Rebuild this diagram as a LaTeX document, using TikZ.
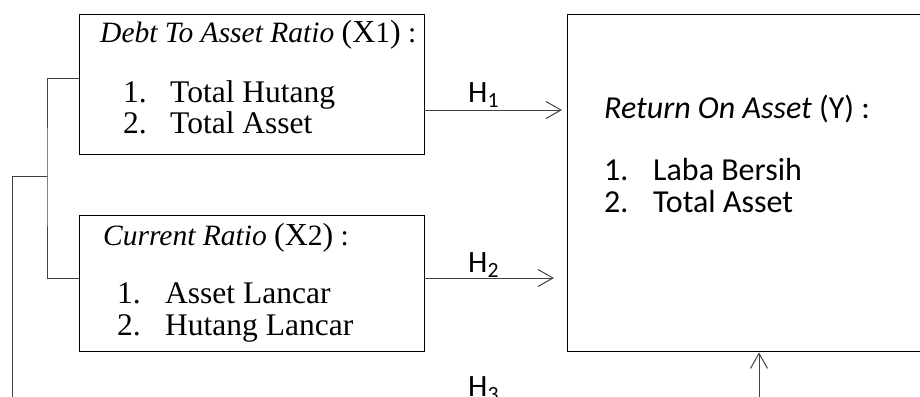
\documentclass[tikz,border=0pt]{standalone}
\usepackage{fontspec}
\setmainfont{Liberation Serif}
\newfontfamily\calfont{Carlito}
\usetikzlibrary{arrows.meta}
\newcommand{\bigp}[1]{{\fontsize{32}{32}\selectfont #1}}
\begin{document}
\begin{tikzpicture}[x=1pt,y=-1pt,
  box/.style={draw, line width=1.4pt, inner sep=0pt, anchor=north west},
  conn/.style={draw=black!75, line width=1pt},
  arr/.style={conn, -{Straight Barb[length=15pt,width=17pt,line width=1pt]}},
  ser/.style={anchor=base west, inner sep=0pt, font=\fontsize{31.5}{31.5}\selectfont},
  sertitle/.style={anchor=base west, inner sep=0pt, font=\fontsize{29.5}{29.5}\selectfont},
  cal/.style={anchor=base west, inner sep=0pt, font=\calfont\fontsize{32}{32}\selectfont},
  hl/.style={anchor=base west, inner sep=0pt, font=\calfont\fontsize{31}{31}\selectfont}]
\useasboundingbox (0,0) rectangle (920,396);
% boxes
\node[box, minimum width=345pt, minimum height=140pt] (x1) at (79,14) {};
\node[box, minimum width=345pt, minimum height=136pt] (x2) at (79,215) {};
\node[box, minimum width=380pt, minimum height=337pt] (y) at (567,14) {};
% X1 text
\node[sertitle] (x1t) at (100,42) {\textit{Debt To Asset Ratio} \bigp{(X}1\bigp{)} :};
\node[ser] (x1a) at (123,102) {1.};
\node[ser] (x1b) at (170,102) {Total Hutang};
\node[ser] (x1c) at (123,133) {2.};
\node[ser] (x1d) at (170,133) {Total Asset};
% X2 text
\node[sertitle] (x2t) at (103,245) {\textit{Current Ratio} \bigp{(X}2\bigp{)} :};
\node[ser] (x2a) at (117,303) {1.};
\node[ser] (x2b) at (165,303) {Asset Lancar};
\node[ser] (x2c) at (117,335) {2.};
\node[ser] (x2d) at (165,335) {Hutang Lancar};
% Y text
\node[cal] (yt) at (604,118) {\textit{Return On Asset} (Y) :};
\node[cal] (ya) at (604,180) {1.};
\node[cal] (yb) at (653,180) {Laba Bersih};
\node[cal] (yc) at (604,212) {2.};
\node[cal] (yd) at (653,212) {Total Asset};
% hypothesis labels
\node[hl] (h1) at (468,102) {H\textsubscript{1}};
\node[hl] (h2) at (468,272) {H\textsubscript{2}};
\node[hl] (h3) at (468,396) {H\textsubscript{3}};
% connectors
\coordinate (a1) at (424,110);
\coordinate (a2) at (424,278);
\coordinate (jn) at (47,176);
\coordinate (lb) at (12,400);
\coordinate (ub) at (759,400);
\draw[arr, shorten >=5pt] (a1) -- (a1 -| y.west);
\draw[arr, shorten >=13pt] (a2) -- (a2 -| y.west);
\draw[arr] (ub) -- (ub |- y.south);
\draw[conn] (x1.west |- 0,78) -| (jn) |- (x2.west |- 0,278);
\draw[conn] (jn) -- (jn -| lb) -- (lb);
\end{tikzpicture}
\end{document}
